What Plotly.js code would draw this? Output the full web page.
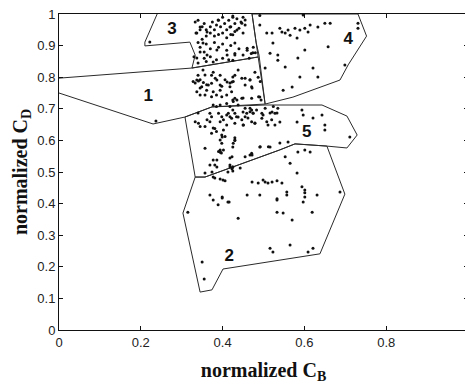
<!DOCTYPE html>
<html>
<head>
<meta charset="utf-8">
<script src="https://cdn.plot.ly/plotly-3.0.1.min.js"></script>
<style>
html,body{margin:0;padding:0;overflow:hidden;background:#fff;}
#chart{width:469px;height:384px;}
</style>
</head>
<body>
<div id="chart"></div>
<script>
// ---- region boundaries (normalized C_B, normalized C_D) ----
const region1X = [0, 0.325, 0.487, 0.504, 0.374, 0.308, 0.230, 0];
const region1Y = [0.797, 0.829, 0.864, 0.715, 0.706, 0.674, 0.652, 0.750];
const region2X = [0.333, 0.357, 0.540, 0.577, 0.655, 0.699, 0.638, 0.418, 0.401, 0.374, 0.345, 0.303, 0.333];
const region2Y = [0.484, 0.484, 0.570, 0.589, 0.582, 0.430, 0.241, 0.196, 0.193, 0.127, 0.120, 0.370, 0.484];
const region3X = [0.240, 0.210, 0.210, 0.320, 0.333, 0.325, 0.487, 0.482, 0.472];
const region3Y = [1.0, 0.911, 0.899, 0.911, 0.870, 0.829, 0.864, 0.910, 1.0];
const region4X = [0.472, 0.731, 0.752, 0.707, 0.687, 0.572, 0.504, 0.489, 0.482, 0.472];
const region4Y = [1.0, 1.0, 0.930, 0.839, 0.791, 0.737, 0.715, 0.870, 0.910, 1.0];
const region5X = [0.308, 0.374, 0.504, 0.643, 0.704, 0.729, 0.704, 0.655, 0.577, 0.540, 0.357, 0.333, 0.308];
const region5Y = [0.674, 0.706, 0.712, 0.712, 0.677, 0.617, 0.576, 0.582, 0.589, 0.570, 0.484, 0.484, 0.674];

const regionNames = ["1", "2", "3", "4", "5"];
const labelX = [0.218, 0.416, 0.276, 0.707, 0.606];
const labelY = [0.737, 0.231, 0.949, 0.918, 0.623];

// ---- data points ----
const ptsX = [
0.34,0.35,0.345,0.335,0.355,0.36,0.37,0.375,0.38,0.385,0.39,0.395,0.40,0.405,0.41,0.415,0.42,0.425,0.43,0.435,0.44,0.445,0.45,0.455,0.43,0.42,0.41,0.40,0.39,0.38,0.37,0.36,0.35,0.34,0.345,0.355,0.36,0.37,0.38,0.39,0.40,0.41,0.42,0.43,0.44,0.45,0.46,0.465,0.47,0.475,0.355,0.37,0.385,0.40,0.415,0.33,0.34,0.36,
0.222,0.333,0.345,0.337,0.362,0.352,0.345,0.337,0.362,0.386,0.411,0.425,0.377,0.389,0.418,0.425,
0.491,0.491,0.508,0.521,0.540,0.545,0.553,0.565,0.560,0.577,0.589,0.601,0.609,0.614,0.633,0.650,0.663,0.582,0.523,0.601,0.658,0.516,0.535,0.535,0.584,0.553,0.504,0.621,0.699,0.589,0.633,0.570,0.548,0.731,0.731,0.597,
0.425,0.447,0.455,0.435,0.450,0.430,0.460,0.474,0.480,0.430,
0.438,0.479,0.455,0.467,0.423,0.487,0.472,0.491,0.450,0.435,0.425,0.494,
0.352,0.340,0.345,0.333,0.373,0.382,0.394,0.406,0.418,0.430,0.447,0.467,0.398,0.361,0.337,0.345,0.357,0.377,0.386,0.394,0.411,0.425,
0.328,0.341,0.353,0.365,0.373,0.349,0.361,0.377,0.394,0.418,0.426,0.455,0.471,0.492,0.337,0.345,0.357,0.373,0.385,0.398,0.410,0.422,0.430,0.447,0.471,0.488,
0.377,0.385,0.394,0.410,0.418,0.426,0.438,0.455,0.471,0.483,0.504,0.524,0.369,0.373,0.390,0.398,0.410,0.414,0.418,0.422,0.430,0.434,0.455,0.459,0.467,0.475,0.496,0.528,
0.333,0.341,0.357,0.369,0.394,0.402,0.410,0.402,0.398,0.406,0.430,0.447,0.451,0.471,0.479,0.496,0.508,0.520,0.528,0.381,0.385,0.345,0.373,0.394,0.398,0.430,0.426,0.394,0.390,0.402,0.357,0.492,0.512,0.471,
0.237,0.340,0.362,0.377,0.399,0.394,0.397,0.425,0.377,0.386,0.418,
0.425,0.450,0.467,0.474,0.438,0.462,0.499,0.516,0.535,0.533,0.594,0.597,0.621,0.643,0.450,0.479,0.511,0.582,0.650,0.650,0.711,0.430,0.430,0.491,0.516,0.540,0.560,0.521,0.540,
0.418,0.467,0.584,0.601,0.614,0.553,0.565,0.582,0.425,0.423,0.472,0.487,0.504,0.521,0.545,0.601,0.631,0.460,0.491,0.557,
0.533,0.557,0.594,0.601,0.601,0.597,0.687,0.533,0.548,0.570,0.619,0.438,0.516,0.523,0.565,0.609,0.621,
0.315,0.369,0.377,0.389,0.399,0.413,0.350,0.355,0.401,
0.394,0.423,0.455,0.472,0.369,0.381,0.386,0.418,0.425,0.413,0.425,0.443,0.374,0.357,0.377,0.381,0.394,0.406,0.499,0.511,0.533,0.399,0.416,0.533
];
const ptsY = [
0.98,0.96,0.95,0.94,0.97,0.95,0.96,0.975,0.95,0.965,0.98,0.96,0.99,0.97,0.95,0.98,0.96,0.99,0.97,0.985,0.955,0.975,0.99,0.965,0.945,0.935,0.925,0.94,0.935,0.93,0.94,0.93,0.92,0.91,0.895,0.88,0.905,0.89,0.91,0.895,0.905,0.885,0.90,0.875,0.89,0.87,0.885,0.86,0.875,0.895,0.86,0.865,0.855,0.86,0.855,0.865,0.845,0.85,
0.911,0.975,0.959,0.940,0.943,0.908,0.880,0.861,0.870,0.886,0.870,0.854,0.848,0.981,0.959,0.934,
0.995,0.965,0.940,0.940,0.955,0.943,0.940,0.933,0.949,0.955,0.949,0.955,0.943,0.965,0.959,0.971,0.971,0.924,0.908,0.886,0.896,0.876,0.870,0.854,0.861,0.832,0.829,0.829,0.839,0.801,0.801,0.769,0.759,0.971,0.955,0.997,
0.994,0.971,0.981,0.949,0.940,0.908,0.892,0.877,0.877,0.870,
0.823,0.816,0.797,0.791,0.785,0.800,0.766,0.737,0.734,0.728,0.728,0.728,
0.823,0.806,0.792,0.782,0.806,0.797,0.806,0.792,0.782,0.806,0.797,0.792,0.771,0.776,0.791,0.766,0.807,0.816,0.791,0.759,0.785,0.801,
0.786,0.788,0.783,0.775,0.781,0.770,0.759,0.754,0.775,0.770,0.786,0.775,0.770,0.786,0.754,0.744,0.744,0.738,0.744,0.738,0.744,0.754,0.733,0.733,0.733,0.738,
0.712,0.707,0.712,0.717,0.707,0.723,0.712,0.702,0.696,0.696,0.702,0.707,0.686,0.675,0.686,0.675,0.680,0.686,0.675,0.670,0.686,0.675,0.675,0.686,0.691,0.686,0.686,0.686,
0.659,0.654,0.644,0.659,0.659,0.665,0.649,0.633,0.617,0.612,0.654,0.665,0.649,0.659,0.654,0.670,0.659,0.665,0.649,0.638,0.628,0.644,0.623,0.601,0.591,0.601,0.591,0.570,0.565,0.570,0.575,0.580,0.580,0.559,
0.661,0.687,0.665,0.639,0.611,0.563,0.560,0.579,0.538,0.516,0.516,
0.696,0.690,0.702,0.687,0.674,0.671,0.680,0.687,0.702,0.687,0.696,0.680,0.671,0.680,0.649,0.655,0.649,0.658,0.649,0.633,0.611,0.608,0.600,0.579,0.579,0.592,0.595,0.690,0.658,
0.544,0.554,0.563,0.570,0.563,0.548,0.528,0.497,0.516,0.510,0.468,0.465,0.468,0.468,0.465,0.434,0.427,0.427,0.427,0.427,
0.411,0.437,0.453,0.443,0.421,0.405,0.437,0.373,0.370,0.348,0.373,0.354,0.259,0.247,0.269,0.247,0.259,
0.373,0.427,0.411,0.396,0.421,0.405,0.215,0.161,0.475,
0.563,0.548,0.548,0.554,0.522,0.522,0.538,0.522,0.516,0.500,0.503,0.513,0.500,0.497,0.484,0.481,0.478,0.472,0.475,0.465,0.472,0.418,0.405,0.415
];

const lineStyle = {color: '#2a2a2a', width: 1};
function regionTrace(x, y, dash) {
  return {x: x, y: y, type: 'scatter', mode: 'lines', line: Object.assign({dash: dash}, lineStyle), hoverinfo: 'skip', showlegend: false};
}

const traces = [
  regionTrace(region1X, region1Y, 'solid'),
  regionTrace(region2X, region2Y, 'solid'),
  regionTrace(region3X, region3Y, 'solid'),
  regionTrace(region4X, region4Y, 'solid'),
  regionTrace(region5X, region5Y, 'solid'),
  {x: ptsX, y: ptsY, type: 'scatter', mode: 'markers',
   marker: {color: '#111', size: 3}, showlegend: false},
  {x: labelX, y: labelY, text: regionNames, type: 'scatter', mode: 'text',
   textfont: {family: 'Liberation Sans, Arial, sans-serif', size: 17, color: '#111', weight: 'bold'},
   showlegend: false, hoverinfo: 'skip'}
];

const xTicks = [0, 0.2, 0.4, 0.6, 0.8];
const xTickText = ['0', '0.2', '0.4', '0.6', '0.8'];
const yTicks = [0, 0.1, 0.2, 0.3, 0.4, 0.5, 0.6, 0.7, 0.8, 0.9, 1];
const yTickText = ['0', '0.1', '0.2', '0.3', '0.4', '0.5', '0.6', '0.7', '0.8', '0.9', '1'];

const layout = {
  width: 469, height: 384,
  margin: {l: 59, r: 1, t: 14, b: 54},
  paper_bgcolor: '#fff', plot_bgcolor: '#fff',
  font: {family: 'Liberation Sans, Arial, sans-serif', size: 13, color: '#222'},
  xaxis: {
    range: [0, 1], tickvals: xTicks, ticktext: xTickText,
    showline: true, linecolor: '#111', linewidth: 1, mirror: 'ticks',
    ticks: 'inside', ticklen: 4, tickcolor: '#111',
    showgrid: false, zeroline: false,
    title: {text: '<b>normalized C<sub>B</sub></b>', standoff: 17,
      font: {family: 'Liberation Serif, Times New Roman, serif', size: 20, color: '#111'}}
  },
  yaxis: {
    range: [0, 1], tickvals: yTicks, ticktext: yTickText,
    showline: true, linecolor: '#111', linewidth: 1, mirror: 'ticks',
    ticks: 'inside', ticklen: 4, tickcolor: '#111',
    showgrid: false, zeroline: false,
    title: {text: '<b>normalized C<sub>D</sub></b>', standoff: 4,
      font: {family: 'Liberation Serif, Times New Roman, serif', size: 20, color: '#111'}}
  }
};

Plotly.newPlot('chart', traces, layout, {displayModeBar: false, staticPlot: true});
</script>
</body>
</html>
